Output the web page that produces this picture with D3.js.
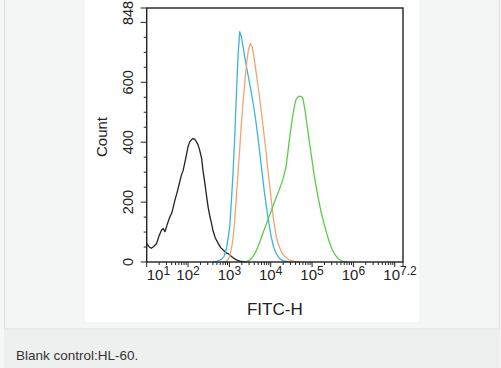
<!DOCTYPE html>
<html><head><meta charset="utf-8">
<script src="https://cdn.jsdelivr.net/npm/d3@7"></script>
<style>
html,body{margin:0;padding:0;background:#f7f7f7;}
svg{display:block;font-family:"Liberation Sans",Arial,sans-serif;}
</style></head>
<body>
<svg id="c" width="501" height="368"></svg>
<script>
// ---- data (x = log10 FITC-H, y = Count) ----
const yTicks = [0, 200, 400, 600, 848];
const xTickLabels = [["10","1"],["10","2"],["10","3"],["10","4"],["10","5"],["10","6"],["10","7.2"]];
const xTickExps = [1, 2, 3, 4, 5, 6, 7.2];
const xTitle = "FITC-H";
const yTitle = "Count";
const caption = "Blank control:HL-60.";

const blackX = [1.00,1.05,1.11,1.17,1.24,1.30,1.36,1.40,1.44,1.48,1.52,1.56,1.61,1.68,1.74,1.80,1.84,1.88,1.92,1.96,2.00,2.04,2.08,2.12,2.16,2.20,2.24,2.28,2.33,2.36,2.40,2.45,2.49,2.53,2.57,2.60,2.66,2.73,2.79,2.85,2.93,2.97,3.01,3.09,3.17,3.25,3.33,3.40];
const blackY = [62,52,46,52,62,88,107,112,101,118,135,150,165,205,235,268,290,305,330,357,385,401,408,412,410,402,392,374,345,307,270,218,180,151,128,107,80,62,48,40,30,28,23,14,7,3,1,0];

const blueX = [2.60,2.70,2.80,2.87,2.93,2.98,3.01,3.05,3.09,3.13,3.17,3.21,3.25,3.29,3.33,3.37,3.43,3.49,3.55,3.61,3.67,3.73,3.79,3.85,3.93,4.01,4.07,4.13,4.21,4.29,4.40,4.50];
const blueY = [0,2,8,18,45,90,120,207,300,420,560,690,769,752,720,686,640,597,550,500,440,370,300,230,151,85,50,29,12,5,1,0];

const orangeX = [2.85,2.93,2.97,3.01,3.05,3.09,3.13,3.17,3.21,3.25,3.29,3.33,3.37,3.43,3.47,3.51,3.55,3.59,3.65,3.71,3.77,3.83,3.89,3.93,3.97,4.02,4.07,4.14,4.21,4.27,4.33,4.45,4.57,4.70];
const orangeY = [0,3,10,20,45,80,140,220,300,380,460,530,597,680,715,730,718,690,630,570,507,435,363,310,260,200,140,80,50,30,20,7,2,0];

const greenX = [3.35,3.41,3.49,3.57,3.63,3.69,3.75,3.81,3.87,3.93,3.99,4.05,4.11,4.17,4.23,4.29,4.33,4.37,4.41,4.45,4.49,4.53,4.57,4.61,4.65,4.69,4.73,4.77,4.80,4.83,4.88,4.93,4.97,5.01,5.05,5.09,5.13,5.17,5.21,5.25,5.29,5.33,5.37,5.41,5.45,5.49,5.53,5.57,5.61,5.65,5.70,5.75,5.85];
const greenY = [0,1,6,18,32,51,72,96,118,140,162,185,207,229,250,274,295,318,360,407,448,485,518,541,550,554,552,550,530,507,455,407,368,330,290,260,228,200,172,150,128,108,88,70,54,40,30,22,15,9,5,2,0];

const seriesColors = ["#222222", "#3ab4e0", "#f2a473", "#5bcc4a"];

// ---- layout ----
const svg = d3.select("#c");
svg.append("rect").attr("x",4.5).attr("y",-2).attr("width",495).attr("height",331)
  .attr("fill","#f4f5f5").attr("stroke","#dcdddd");
svg.append("rect").attr("x",4).attr("y",330).attr("width",496).attr("height",38).attr("fill","#eeefef");
svg.append("rect").attr("x",85).attr("y",0).attr("width",334).attr("height",322).attr("fill","#ffffff");

const L = 146.7, R = 403, T = 8, B = 262;
const x = d3.scaleLog().domain([10, Math.pow(10,7.2)]).range([L, R]);
const y = d3.scaleLinear().domain([0, 848]).range([B, T]);

const g = svg.append("g");

// curves
const line = d3.line().x(d => x(Math.pow(10, d[0]))).y(d => y(d[1])).curve(d3.curveLinear);
const series = [[blackX, blackY],[blueX, blueY],[orangeX, orangeY],[greenX, greenY]];
series.forEach((s, i) => {
  const pts = s[0].map((v, k) => [v, s[1][k]]);
  g.append("path").datum(pts).attr("d", line).attr("fill","none")
    .attr("stroke", seriesColors[i]).attr("stroke-width", 1.3).attr("stroke-linejoin","round");
});

// frame
g.append("rect").attr("x",L).attr("y",T).attr("width",R-L).attr("height",B-T)
  .attr("fill","none").attr("stroke","#222").attr("stroke-width",1.4);

// x ticks: major + minor
const minor = [];
for (let e = 1; e < 8; e++) {
  for (let m = 1; m < 10; m++) {
    const v = m * Math.pow(10, e);
    if (v <= Math.pow(10,7.2)) minor.push({v, major: m === 1});
  }
}
g.selectAll(".xt").data(minor).join("line")
  .attr("x1", d => x(d.v)).attr("x2", d => x(d.v))
  .attr("y1", B).attr("y2", d => B + (d.major ? 5 : 3))
  .attr("stroke","#222").attr("stroke-width",1);
g.append("line").attr("x1",R).attr("x2",R).attr("y1",B).attr("y2",B+5).attr("stroke","#222");

// x labels
xTickExps.forEach((e, i) => {
  const px = x(Math.pow(10, e));
  const t = g.append("text").attr("y", 280).attr("fill","#222").attr("font-size",15);
  if (i === 0) { t.attr("x", px).attr("text-anchor","start"); }
  else if (i === xTickExps.length - 1) { t.attr("x", px - 3).attr("text-anchor","middle"); }
  else { t.attr("x", px).attr("text-anchor","middle"); }
  t.append("tspan").text(xTickLabels[i][0]);
  t.append("tspan").attr("dy",-5).attr("font-size",12).text(xTickLabels[i][1]);
});

// y ticks
const yMinor = d3.range(0, 848, 50);
g.selectAll(".ym").data(yMinor).join("line")
  .attr("x1", L).attr("x2", d => L - (d % 200 === 0 ? 6 : 3))
  .attr("y1", d => y(d)).attr("y2", d => y(d))
  .attr("stroke","#222").attr("stroke-width",1);
g.append("line").attr("x1",L).attr("x2",L-6).attr("y1",y(848)).attr("y2",y(848)).attr("stroke","#222");

yTicks.forEach(v => {
  const py = v === 848 ? y(v) + 5 : y(v);
  g.append("text").attr("transform", `translate(133,${py}) rotate(-90)`)
    .attr("text-anchor","middle").attr("font-size",14.5).attr("fill","#222").text(v);
});

// axis titles
g.append("text").attr("x", (L+R)/2).attr("y", 315).attr("text-anchor","middle")
  .attr("font-size",17).attr("fill","#222").text(xTitle);
g.append("text").attr("transform", `translate(107,${(T+B)/2 + 2}) rotate(-90)`)
  .attr("text-anchor","middle").attr("font-size",15).attr("fill","#222").text(yTitle);

// caption
svg.append("text").attr("x",16).attr("y",360).attr("font-size",13.5).attr("fill","#333").text(caption);
</script>
</body></html>
